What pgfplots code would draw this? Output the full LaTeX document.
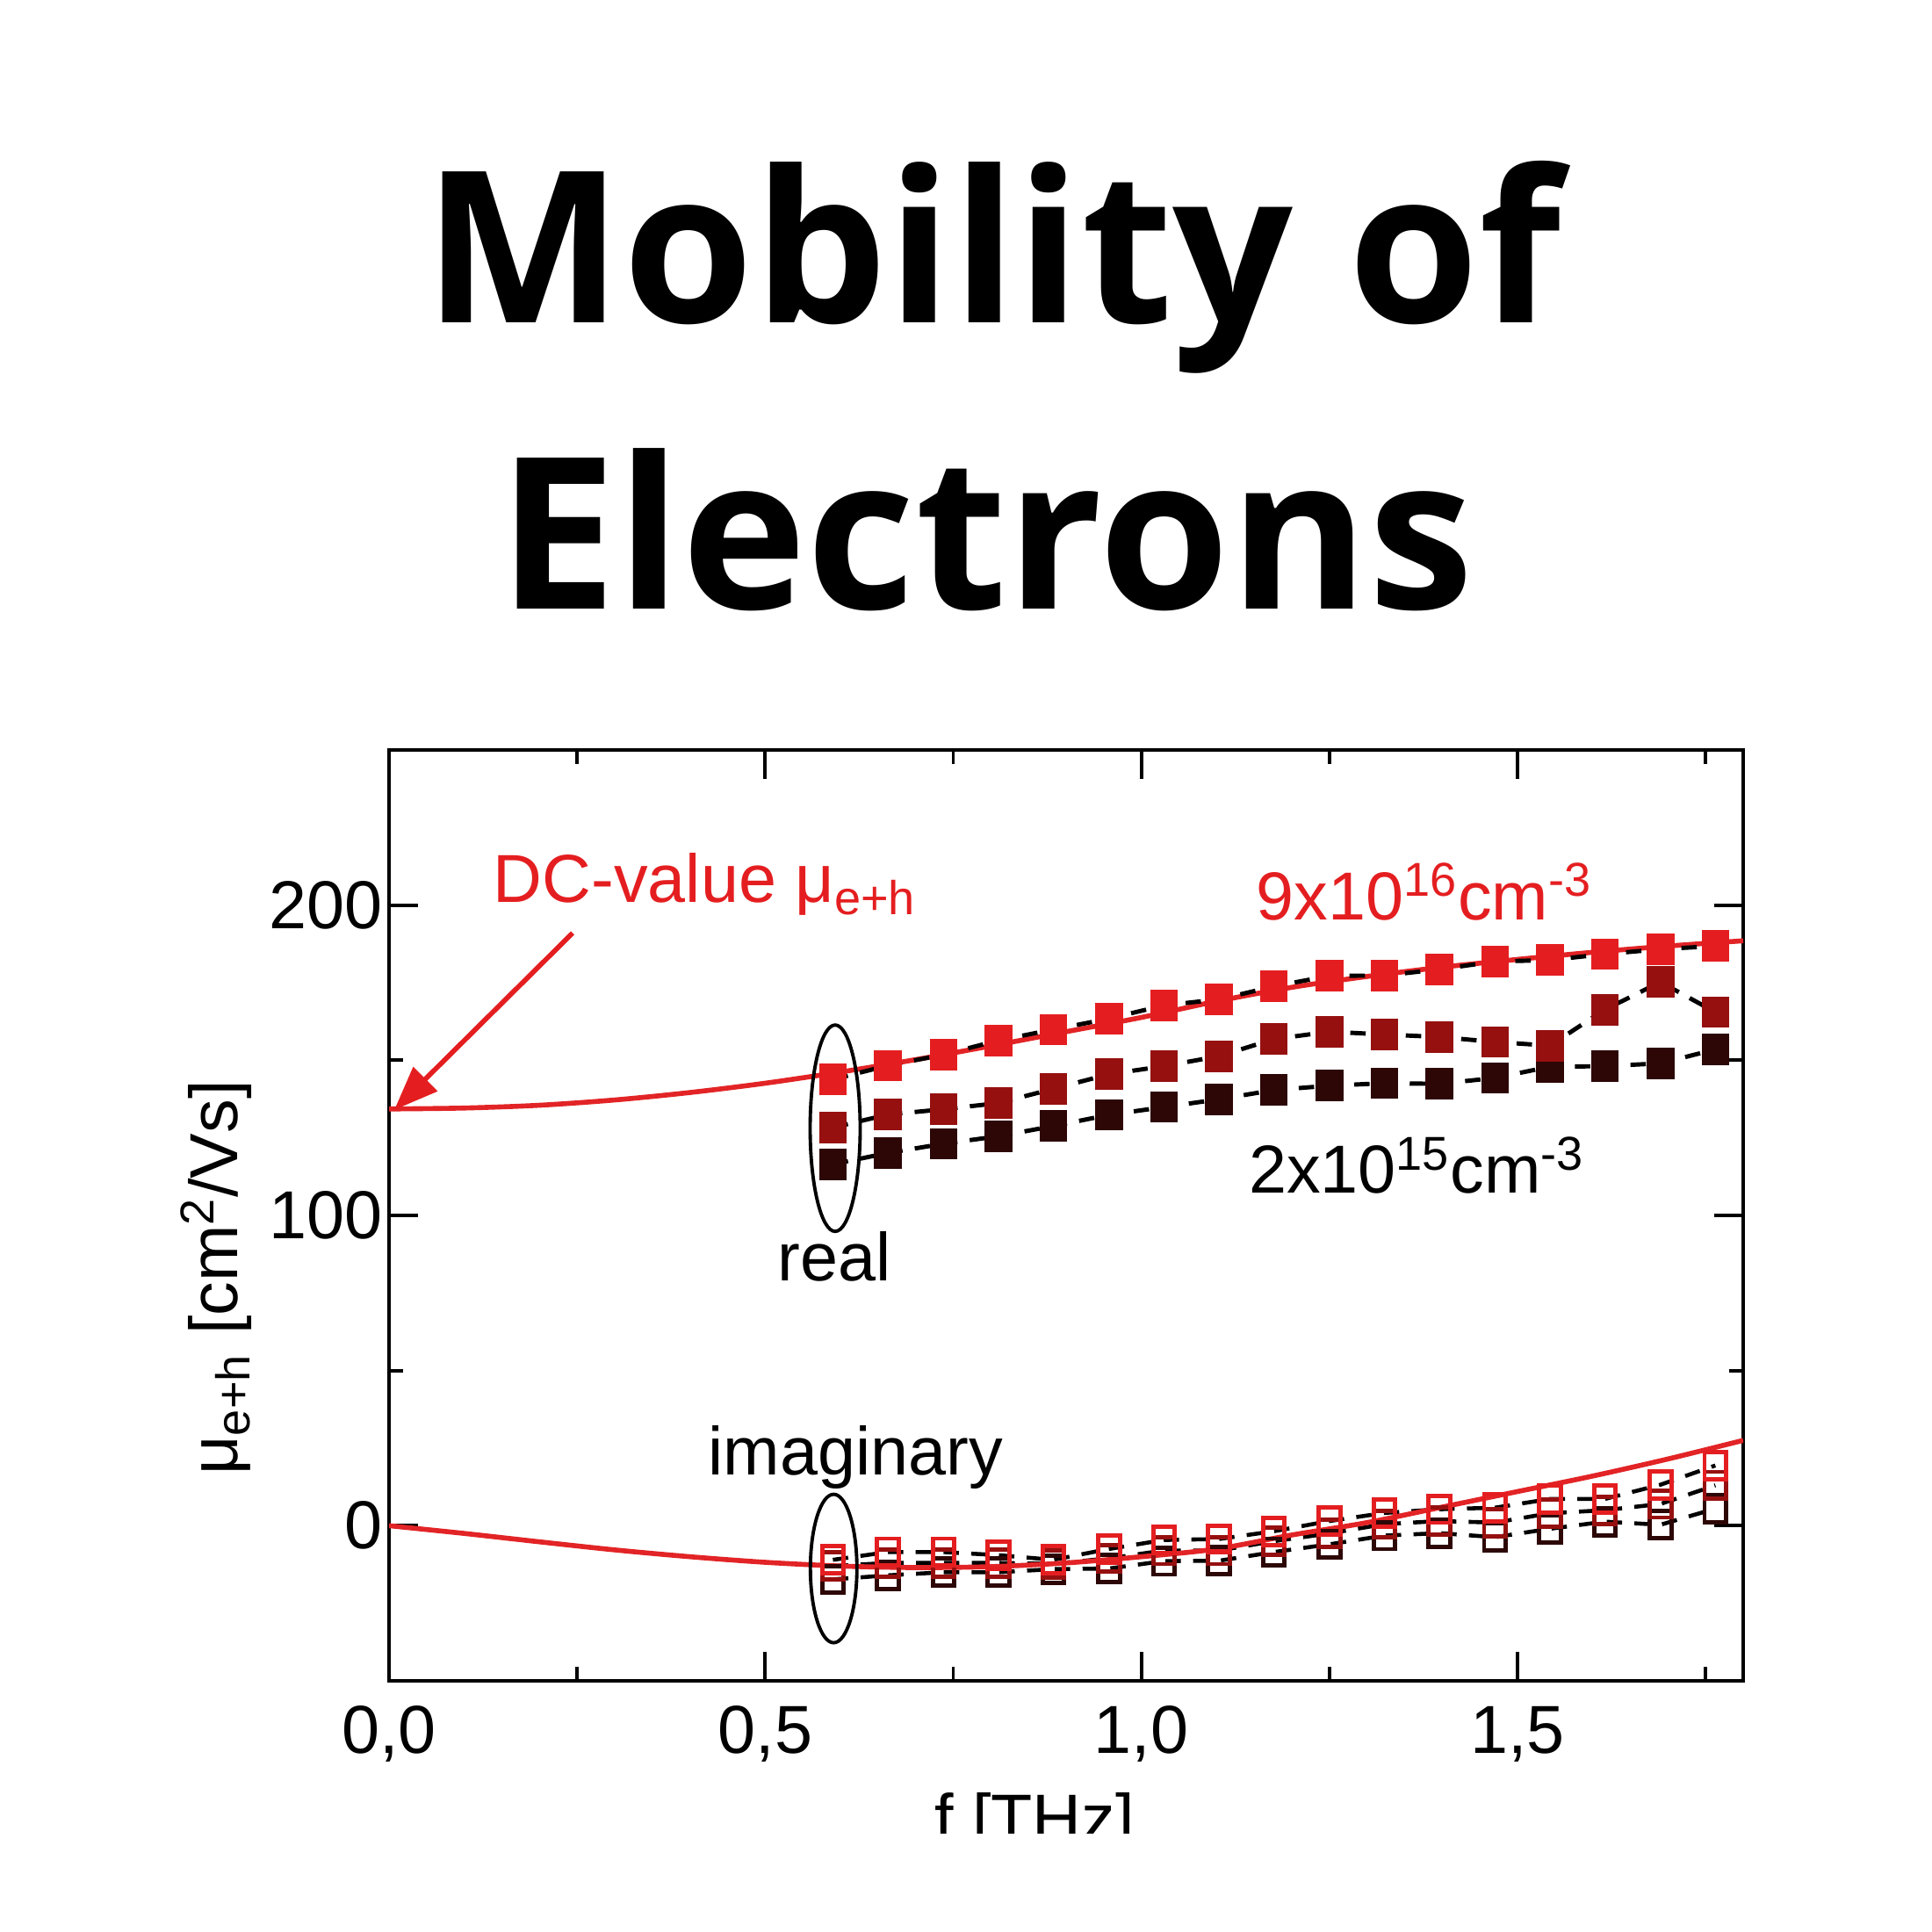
\documentclass[border=0pt]{standalone}
\usepackage{fontspec}
\setmainfont{Liberation Sans}
\newfontfamily\titlefont{Open Sans}
\usepackage{pgfplots}
\usepackage{pgfplotstable}
\pgfplotsset{compat=1.18}
\usetikzlibrary{arrows.meta}
\definecolor{cred}{RGB}{228,30,32}
\definecolor{cdred}{RGB}{150,16,16}
\definecolor{cdark}{RGB}{45,6,6}
\definecolor{lred}{RGB}{226,36,38}

\pgfplotstableread{
f top mid bot ia ib ic
0.590 143.8 128.3 116.5 -11.0 -13.0 -17.3
0.663 148.3 132.5 120.1 -8.5 -12.0 -16.0
0.737 151.8 134.2 123.1 -8.5 -12.0 -15.0
0.810 156.4 136.2 125.5 -9.5 -12.0 -15.0
0.883 159.9 140.8 128.8 -11.0 -12.3 -14.0
0.957 163.4 145.5 132.4 -7.5 -10.5 -13.8
1.030 167.7 148.1 134.9 -4.6 -8.0 -11.4
1.103 169.6 151.3 137.4 -4.3 -8.0 -11.3
1.176 173.8 156.8 140.4 -1.8 -5.0 -8.5
1.250 177.2 159.2 141.8 1.5 -2.5 -6.0
1.323 177.3 158.3 142.6 4.1 0.5 -3.2
1.396 179.3 157.5 142.4 5.3 1.5 -2.4
1.470 181.8 155.9 144.3 5.8 1.0 -3.7
1.543 182.3 154.7 147.9 8.6 4.0 -1.0
1.616 184.2 166.3 148.1 8.6 5.0 1.3
1.690 185.8 175.2 149.0 13.2 7.0 0.3
1.763 186.8 165.5 153.5 19.4 13.0 5.5
}\datatab

\pgfplotstableread{
f re im
0.00 134.3 0.0
0.10 134.6 -2.5
0.20 135.5 -5.2
0.30 137.2 -7.8
0.40 139.6 -10.0
0.50 142.6 -11.8
0.60 146.2 -13.0
0.70 150.2 -13.5
0.80 154.6 -13.2
0.90 159.2 -12.0
1.00 163.8 -10.0
1.10 169.0 -7.5
1.20 173.5 -3.0
1.30 177.0 1.0
1.40 180.0 6.0
1.50 182.5 11.0
1.60 184.8 16.0
1.70 186.8 21.5
1.80 188.5 27.5
}\curvetab

\begin{document}
\begin{tikzpicture}
\path (0,0) rectangle (220mm,220mm);
\node[anchor=base, inner sep=0pt, font=\titlefont\bfseries\fontsize{68.5}{80}\selectfont] at (113.0mm,183.2mm) {Mobility of};
\node[anchor=base, inner sep=0pt, font=\titlefont\bfseries\fontsize{68.5}{80}\selectfont] at (112.3mm,150.6mm) {Electrons};

\begin{axis}[
  at={(44.3mm,28.6mm)}, anchor=south west,
  scale only axis, width=154.2mm, height=106mm,
  xmin=0, xmax=1.8, ymin=-50, ymax=250,
  xtick={0,0.5,1,1.5}, xticklabels={{0,0},{0,5},{1,0},{1,5}},
  minor xtick={0.25,0.75,1.25,1.75},
  ytick={0,100,200}, yticklabels={0,100,200},
  minor ytick={50,150},
  tick align=inside, major tick length=3.3mm, minor tick length=1.6mm,
  axis line style={line width=1.4pt},
  tick style={black, line width=1.1pt},
  ticklabel style={font=\fontsize{22}{26}\selectfont, inner sep=1pt},
  xticklabel style={yshift=-7pt},
  yticklabel style={xshift=-1pt},
]
% imaginary parts (open squares)
\addplot[black, line width=1.3pt, dash pattern=on 5pt off 4pt, mark=square, mark size=3.5pt,
  mark options={solid, yscale=1.25, fill=white, draw=cdark, line width=1.4pt}] table[x=f,y=ic] {\datatab};
\addplot[black, line width=1.3pt, dash pattern=on 5pt off 4pt, mark=square, mark size=3.5pt,
  mark options={solid, yscale=1.25, fill=white, draw=cdred, line width=1.4pt}] table[x=f,y=ib] {\datatab};
\addplot[black, line width=1.3pt, dash pattern=on 5pt off 4pt, mark=square, mark size=3.5pt,
  mark options={solid, yscale=1.25, fill=white, draw=cred, line width=1.4pt}] table[x=f,y=ia] {\datatab};
% Drude curves
\addplot[lred, line width=1.6pt, smooth, no marks] table[x=f,y=im] {\curvetab};
\addplot[lred, line width=1.6pt, smooth, no marks] table[x=f,y=re] {\curvetab};
% real parts (filled squares)
\addplot[black, line width=1.4pt, dash pattern=on 5pt off 4pt, mark=square*, mark size=3.8pt,
  mark options={solid, yscale=1.15, fill=cdark, draw=cdark}] table[x=f,y=bot] {\datatab};
\addplot[black, line width=1.4pt, dash pattern=on 5pt off 4pt, mark=square*, mark size=3.8pt,
  mark options={solid, yscale=1.15, fill=cdred, draw=cdred}] table[x=f,y=mid] {\datatab};
\addplot[black, line width=1.4pt, dash pattern=on 5pt off 4pt, mark=square*, mark size=3.8pt,
  mark options={solid, yscale=1.15, fill=cred, draw=cred}] table[x=f,y=top] {\datatab};

% annotations
\draw[line width=1.1pt] (axis cs:0.593,128.1) ellipse [x radius=2.85mm, y radius=11.75mm];
\draw[line width=1.1pt] (axis cs:0.591,-13.8) ellipse [x radius=2.65mm, y radius=8.45mm];
\draw[cred, line width=1.6pt, -{Triangle[length=5mm,width=3.8mm]}] (axis cs:0.244,191) -- (axis cs:0.007,134);
\node[anchor=base west, inner sep=0pt, text=cred, font=\fontsize{22}{26}\selectfont] at (axis cs:0.138,201) {DC-value μ\textsubscript{e+h}};
\node[anchor=base west, inner sep=0pt, text=cred, font=\fontsize{22}{26}\selectfont] at (axis cs:1.152,195.3) {9x10\textsuperscript{16}cm\textsuperscript{-3}};
\node[anchor=base west, inner sep=0pt, font=\fontsize{22}{26}\selectfont] at (axis cs:1.142,107.1) {2x10\textsuperscript{15}cm\textsuperscript{-3}};
\node[anchor=base, inner sep=0pt, font=\fontsize{22}{26}\selectfont] at (axis cs:0.592,79) {real};
\node[anchor=base, inner sep=0pt, font=\fontsize{22}{26}\selectfont] at (axis cs:0.620,16.4) {imaginary};
\end{axis}

\node[rotate=90, anchor=base, inner sep=0pt, font=\fontsize{22}{26}\selectfont] at (27.0mm,74.5mm) {μ\textsubscript{e+h} [cm\textsuperscript{2}/Vs]};
\node[anchor=base, inner sep=0pt, font=\fontsize{22}{26}\selectfont] at (117.8mm,10.2mm) {f [THz]};
\fill[white] (0,0) rectangle (220mm,11.2mm);
\end{tikzpicture}
\end{document}
